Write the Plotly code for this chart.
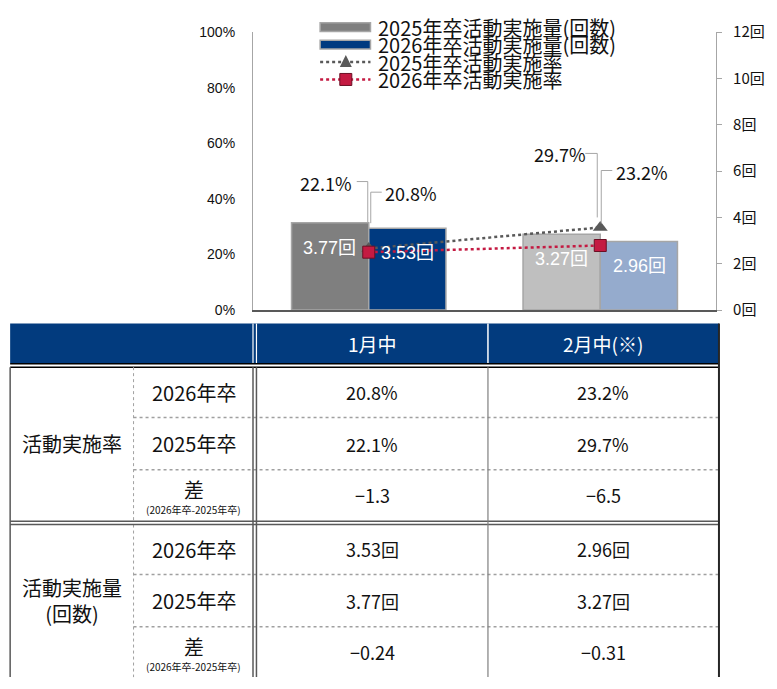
import plotly.graph_objects as go

# ---------------- data ----------------
categories = ["1月中", "2月中(※)"]
count_2025 = [3.77, 3.27]
count_2026 = [3.53, 2.96]
rate_2025 = [22.1, 29.7]
rate_2026 = [20.8, 23.2]
diff_rate = [-1.3, -6.5]
diff_count = [-0.24, -0.31]
pct_ticks = [0, 20, 40, 60, 80, 100]
count_ticks = [0, 2, 4, 6, 8, 10, 12]
series_names = ["2025年卒活動実施量(回数)", "2026年卒活動実施量(回数)",
                "2025年卒活動実施率", "2026年卒活動実施率"]
row_years = ["2026年卒", "2025年卒"]
group_labels = ["活動実施率", "活動実施量<br>(回数)"]
diff_label = "差"
diff_sub = "(2026年卒-2025年卒)"

# ---------------- style ----------------
FONT = "Noto Sans CJK JP"
AXFONT = "Liberation Sans, Arial, Noto Sans CJK JP"
C25 = ["#7f7f7f", "#bfbfbf"]
C26 = ["#003a80", "#95abcd"]
NAVY = "#023b7e"
RED = "#c41a42"
DGRAY = "#595959"

PAGE_OFF = 8          # default body margin of the html page
W_FIG, H_FIG = 777 - PAGE_OFF, 689 - PAGE_OFF
# plot area in screenshot pixels
L, R, T, B = 253, 722, 23, 310
PW, PH = R - L, B - T


def fx(x):
    return (x - L) / PW


def fy(y):
    return (B - y) / PH


xs = list(range(len(categories)))

fig = go.Figure()
fig.add_trace(go.Bar(x=xs, y=count_2025, name=series_names[0], yaxis="y",
                     marker=dict(color=C25, line=dict(color="#a6a6a6", width=1.5))))
fig.add_trace(go.Bar(x=xs, y=count_2026, name=series_names[1], yaxis="y",
                     marker=dict(color=C26, line=dict(color="#a6a6a6", width=1.5))))
fig.add_trace(go.Scatter(x=xs, y=rate_2025, name=series_names[2], yaxis="y2",
                         mode="lines+markers",
                         line=dict(color=DGRAY, width=2.5, dash="dot"),
                         marker=dict(symbol="triangle-up", size=13, color=DGRAY)))
fig.add_trace(go.Scatter(x=xs, y=rate_2026, name=series_names[3], yaxis="y2",
                         mode="lines+markers",
                         line=dict(color=RED, width=2.5, dash="dot"),
                         marker=dict(symbol="square", size=12, color=RED,
                                     line=dict(color="#6b0f24", width=1))))

annotations = []
shapes = []

# bar value labels
for i in xs:
    for vals, sh in ((count_2025, -39), (count_2026, 39)):
        annotations.append(dict(x=i, y=vals[i], xref="x", yref="y", xshift=sh, yshift=-25,
                                text=f"{vals[i]:.2f}回", showarrow=False,
                                font=dict(family=AXFONT, size=18, color="white")))

# rate labels with leader lines (offsets in pixels relative to marker)
label_specs = [
    (rate_2025, 0, -43, 66, "M -12,67 L -1,67 L -1,26"),
    (rate_2026, 0, 42, 59, "M 13,60 L 2,60 L 2,29"),
    (rate_2025, 1, -40, 73, "M -15,74 L -3,74 L -3,10"),
    (rate_2026, 1, 42, 74, "M 12,75 L 1,75 L 1,22"),
]
for vals, i, dx, dy, path in label_specs:
    annotations.append(dict(x=i, y=vals[i], xref="x", yref="y2", xshift=dx, yshift=dy,
                            text=f"{vals[i]:.1f}%", showarrow=False,
                            font=dict(family=FONT, size=18, color="#111111")))
    shapes.append(dict(type="path", xref="x", yref="y2", xsizemode="pixel", ysizemode="pixel",
                       xanchor=i, yanchor=vals[i], path=path,
                       line=dict(color="#a6a6a6", width=1)))

# ---------------- manual legend ----------------
leg_y = [18, 36, 54, 72]
for k, name in enumerate(series_names):
    yy = leg_y[k]
    annotations.append(dict(x=fx(378), y=fy(yy), xref="paper", yref="paper",
                            xanchor="left", yanchor="middle", text=name, showarrow=False,
                            font=dict(family=FONT, size=20, color="#111111")))
for k, col in enumerate([C25[0], C26[0]]):
    yy = leg_y[k]
    shapes.append(dict(type="rect", xref="paper", yref="paper",
                       x0=fx(321), x1=fx(372), y0=fy(yy + 4.5), y1=fy(yy - 4.5),
                       fillcolor=col, line=dict(color="#a6a6a6", width=1.5)))
for k, col in ((2, DGRAY), (3, RED)):
    yy = leg_y[k]
    shapes.append(dict(type="line", xref="paper", yref="paper",
                       x0=fx(321), x1=fx(372), y0=fy(yy), y1=fy(yy),
                       line=dict(color=col, width=2.5, dash="dot")))
shapes.append(dict(type="path", xref="paper", yref="paper", xsizemode="pixel",
                   ysizemode="pixel", xanchor=fx(347), yanchor=fy(leg_y[2]),
                   path="M -6,-5 L 6,-5 L 0,7 Z", fillcolor=DGRAY, line=dict(width=0)))
shapes.append(dict(type="rect", xref="paper", yref="paper", xsizemode="pixel",
                   ysizemode="pixel", xanchor=fx(347), yanchor=fy(leg_y[3]),
                   x0=-6, x1=6, y0=-6, y1=6, fillcolor=RED,
                   line=dict(color="#6b0f24", width=1)))

# ---------------- table ----------------
TL, TR = 7, 725
C1, C2a, C2b, C3 = 132, 253, 256.5, 491


def hline(y, x0, x1, color, w, dash="solid"):
    shapes.append(dict(type="line", xref="paper", yref="paper", x0=fx(x0), x1=fx(x1),
                       y0=fy(y), y1=fy(y), line=dict(color=color, width=w, dash=dash)))


def vline(x, y0, y1, color, w, dash="solid"):
    shapes.append(dict(type="line", xref="paper", yref="paper", x0=fx(x), x1=fx(x),
                       y0=fy(y0), y1=fy(y1), line=dict(color=color, width=w, dash=dash)))


def text(x, y, s, size, color="#111111"):
    annotations.append(dict(x=fx(x), y=fy(y), xref="paper", yref="paper", text=s,
                            showarrow=False, xanchor="center", yanchor="middle",
                            font=dict(family=FONT, size=size, color=color)))


shapes.append(dict(type="rect", xref="paper", yref="paper", x0=fx(TL), x1=fx(TR),
                   y0=fy(365), y1=fy(324), fillcolor=NAVY, line=dict(width=0)))
vline(C2a, 324, 365, "white", 1.2)
vline(C2b, 324, 365, "white", 1.2)
vline(C3, 324, 365, "white", 1.5)
hline(365.5, TL, TR, "black", 1.5)
hline(369, TL, TR, "black", 1.5)
for yy in (421, 475, 583, 637):
    hline(yy, C1, TR, "#a0a0a0", 1.5, "dot")
vline(C1, 369, 528, "#a0a0a0", 1, "dot")
vline(C1, 531.5, 689, "#a0a0a0", 1, "dot")
hline(528, TL, TR, DGRAY, 1.5)
hline(531.5, TL, TR, DGRAY, 1.5)
vline(TL, 369, 689, DGRAY, 1.5)
vline(C2a, 369, 689, DGRAY, 1.5)
vline(C2b, 369, 689, DGRAY, 1.5)
vline(C3, 369, 689, "#7f7f7f", 1.2)
vline(TR, 324, 689, "#262626", 2)

col_x = [374, 608]
for j, c in enumerate(categories):
    text(col_x[j], 345, c, 19, "white")

row_y = [395, 448, 501, 557, 610, 663]
text(70, 448, group_labels[0], 20)
text(70, 610, group_labels[1], 20)
for g in range(2):
    base = g * 3
    text(193, row_y[base], row_years[0], 20)
    text(193, row_y[base + 1], row_years[1], 20)
    text(193, row_y[base + 2] - 6, diff_label, 20)
    text(193, row_y[base + 2] + 15, diff_sub, 10)

for j in xs:
    text(col_x[j], row_y[0], f"{rate_2026[j]:.1f}%", 18)
    text(col_x[j], row_y[1], f"{rate_2025[j]:.1f}%", 18)
    text(col_x[j], row_y[2], f"{diff_rate[j]:.1f}".replace("-", "−"), 18)
    text(col_x[j], row_y[3], f"{count_2026[j]:.2f}回", 18)
    text(col_x[j], row_y[4], f"{count_2025[j]:.2f}回", 18)
    text(col_x[j], row_y[5], f"{diff_count[j]:.2f}".replace("-", "−"), 18)

fig.update_layout(
    width=W_FIG, height=H_FIG,
    margin=dict(l=L - PAGE_OFF, r=777 - R, t=T - PAGE_OFF, b=689 - B, pad=0),
    paper_bgcolor="white", plot_bgcolor="white",
    barmode="group", bargap=0.333, bargroupgap=0,
    showlegend=False,
    xaxis=dict(range=[-0.5, 1.5], showticklabels=False, ticks="", showgrid=False,
               zeroline=False, showline=True, linecolor=DGRAY, linewidth=1.5),
    yaxis=dict(side="right", range=[0, 12], tickvals=count_ticks,
               ticktext=[f"{v}回" for v in count_ticks],
               ticks="outside", ticklen=5, tickcolor="#a6a6a6",
               showline=True, linecolor="#a6a6a6", linewidth=1.2,
               showgrid=False, zeroline=False, ticklabelstandoff=8,
               tickfont=dict(family=FONT, size=15, color="#111111")),
    yaxis2=dict(overlaying="y", side="left", anchor="x", range=[0, 100],
                tickvals=pct_ticks, ticktext=[f"{v}%" for v in pct_ticks],
                ticks="", showline=True, linecolor="#a6a6a6", linewidth=1.2,
                showgrid=False, zeroline=False, ticklabelstandoff=14,
                tickfont=dict(family=AXFONT, size=14, color="#111111")),
    annotations=annotations,
    shapes=shapes,
)

fig.write_html("out.html")
